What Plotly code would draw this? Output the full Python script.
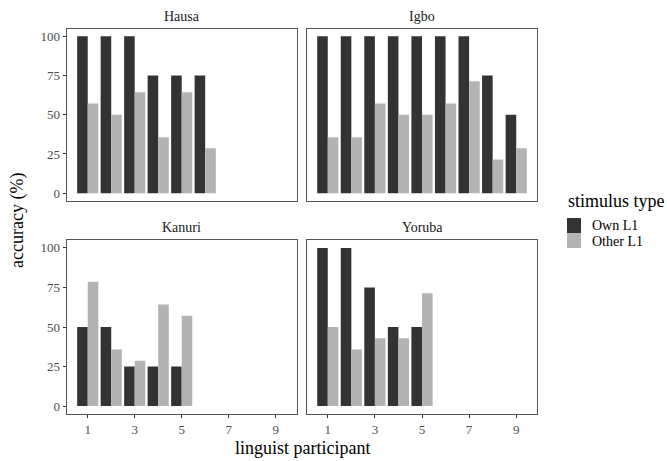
import plotly.graph_objects as go

languages = ["Hausa", "Igbo", "Kanuri", "Yoruba"]
own_l1 = {
    "Hausa": [100, 100, 100, 75, 75, 75],
    "Igbo": [100, 100, 100, 100, 100, 100, 100, 75, 50],
    "Kanuri": [50, 50, 25, 25, 25],
    "Yoruba": [100, 100, 75, 50, 50],
}
other_l1 = {
    "Hausa": [57.1, 50.0, 64.3, 35.7, 64.3, 28.6],
    "Igbo": [35.7, 35.7, 57.1, 50.0, 50.0, 57.1, 71.4, 21.4, 28.6],
    "Kanuri": [78.6, 35.7, 28.6, 64.3, 57.1],
    "Yoruba": [50.0, 35.7, 42.9, 42.9, 71.4],
}
series_names = ["Own L1", "Other L1"]
series_colors = ["#333333", "#b3b3b3"]
x_ticks = [1, 3, 5, 7, 9]
y_ticks = [0, 25, 50, 75, 100]

W, H = 667, 461
FONT = "Liberation Serif"

# panel pixel boxes
xdoms = [(66.7 / W, 296.7 / W), (306.7 / W, 537.3 / W)]
ydoms = [(1 - 201 / H, 1 - 28.5 / H), (1 - 414 / H, 1 - 240 / H)]

fig = go.Figure()
layout = {}
for i, lang in enumerate(languages):
    row, col = divmod(i, 2)
    ax = "" if i == 0 else str(i + 1)
    xs = list(range(1, len(own_l1[lang]) + 1))
    for s, (name, vals) in enumerate(zip(series_names, [own_l1[lang], other_l1[lang]])):
        fig.add_trace(go.Bar(
            x=xs, y=vals, name=name, marker_color=series_colors[s],
            marker_line_width=0, offsetgroup=str(s), legendgroup=name,
            showlegend=False, xaxis="x" + ax, yaxis="y" + ax,
        ))
    layout["xaxis" + ax] = dict(
        domain=xdoms[col], anchor="y" + ax, range=[0.105, 9.895],
        tickvals=x_ticks, showticklabels=(row == 1),
        ticks="outside" if row == 1 else "",
        ticklen=3, tickcolor="#333333", showline=True, mirror=True,
        linecolor="#555555", linewidth=1, showgrid=False, zeroline=False,
        tickfont=dict(family=FONT, size=13, color="#4d4d4d"),
    )
    layout["yaxis" + ax] = dict(
        domain=ydoms[row], anchor="x" + ax, range=[-5, 105],
        tickvals=y_ticks, showticklabels=(col == 0),
        ticks="outside" if col == 0 else "",
        ticklen=3, tickcolor="#333333", showline=True, mirror=True,
        linecolor="#555555", linewidth=1, showgrid=False, zeroline=False,
        tickfont=dict(family=FONT, size=13, color="#4d4d4d"),
    )

annotations = []
for i, lang in enumerate(languages):
    row, col = divmod(i, 2)
    annotations.append(dict(
        text=lang, x=(xdoms[col][0] + xdoms[col][1]) / 2, y=ydoms[row][1],
        xref="paper", yref="paper", xanchor="center", yanchor="bottom",
        yshift=3, showarrow=False, font=dict(family=FONT, size=14, color="#1a1a1a"),
    ))
annotations.append(dict(
    text="accuracy (%)", x=18 / W, y=1 - 221 / H, xref="paper", yref="paper",
    textangle=-90, showarrow=False, xanchor="center", yanchor="middle",
    font=dict(family=FONT, size=18, color="black"),
))
annotations.append(dict(
    text="linguist participant", x=302 / W, y=1 - 448 / H, xref="paper", yref="paper",
    showarrow=False, xanchor="center", yanchor="middle",
    font=dict(family=FONT, size=18, color="black"),
))

# legend drawn as keys + labels
shapes = []
annotations.append(dict(
    text="stimulus type", x=566 / W, y=1 - 201 / H, xref="paper", yref="paper",
    showarrow=False, xanchor="left", yanchor="middle",
    font=dict(family=FONT, size=18, color="black"),
))
key_top = 218
for s, name in enumerate(series_names):
    t = key_top + 15 * s
    shapes.append(dict(
        type="rect", xref="paper", yref="paper",
        x0=567 / W, x1=581 / W, y0=1 - (t + 15) / H, y1=1 - t / H,
        fillcolor=series_colors[s], line=dict(width=0),
    ))
    annotations.append(dict(
        text=name, x=590 / W, y=1 - (t + 8) / H, xref="paper", yref="paper",
        showarrow=False, xanchor="left", yanchor="middle",
        font=dict(family=FONT, size=14, color="black"),
    ))

fig.update_layout(
    width=W, height=H, margin=dict(l=0, r=0, t=0, b=0),
    paper_bgcolor="white", plot_bgcolor="white",
    barmode="group", bargap=0.1, bargroupgap=0,
    annotations=annotations, shapes=shapes, showlegend=False,
    **layout,
)
fig.write_html("out.html")
